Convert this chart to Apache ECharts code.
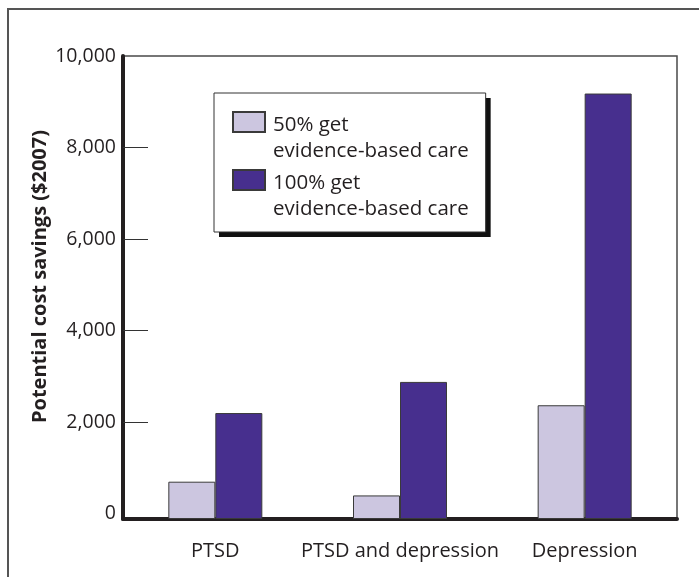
<!DOCTYPE html>
<html>
<head>
<meta charset="utf-8">
<script src="https://cdn.jsdelivr.net/npm/echarts@6/dist/echarts.min.js"></script>
<style>
  html, body { margin: 0; padding: 0; background: #fff; }
  #chart { width: 699px; height: 577px; }
</style>
</head>
<body>
<div id="chart"></div>
<script>
// Potential cost savings by diagnosis, two care scenarios
const categories = ['PTSD', 'PTSD and depression', 'Depression'];
const seriesNames = ['50% get\nevidence-based care', '100% get\nevidence-based care'];
const halfCare = [700, 400, 2370];
const fullCare = [2200, 2880, 9180];
const yTickValues = [0, 2000, 4000, 6000, 8000, 10000];
// Axis floor sits a little below zero so the baseline line clears the 0 label
const axisFloor = -115;
const axisMax = 10000;

const ink = '#231f20';
const font = 'Open Sans';

const chart = echarts.init(document.getElementById('chart'), null, { renderer: 'canvas' });

// Legend swatch: 32x20 box in the top of a 32x52 cell, so it lines up with the first text line
const swatch = 'path://M0,0L32,0L32,20L0,20Z M0,52';

// Shared legend layout; one copy paints the shadowed card, the other the items and outline
const legendBase = {
  orient: 'vertical',
  left: 214, top: 93,
  padding: [18, 17, 9, 18],
  itemWidth: 32, itemHeight: 52, itemGap: 4,
  icon: swatch,
  selectedMode: false,
  textStyle: { fontFamily: font, fontSize: 20.5, lineHeight: 26, color: ink, padding: [0, 0, 0, 3] },
  data: seriesNames
};

chart.setOption({
  animation: false,
  backgroundColor: '#fff',
  graphic: [{
    type: 'rect',
    shape: { x: 8, y: 9, width: 900, height: 800 },
    style: { fill: 'none', stroke: '#555', lineWidth: 2 },
    silent: true,
    z: -1
  }],
  grid: {
    left: 123, right: 22, top: 56, bottom: 58,
    show: true, borderColor: '#4a4a4a', borderWidth: 1.5, backgroundColor: 'transparent'
  },
  legend: [
    Object.assign({}, legendBase, {
      z: 3,
      backgroundColor: '#fff',
      borderWidth: 0,
      shadowColor: '#111', shadowBlur: 0, shadowOffsetX: 5, shadowOffsetY: 5,
      itemStyle: { color: 'transparent', borderColor: 'transparent' },
      textStyle: Object.assign({}, legendBase.textStyle, { color: 'transparent' })
    }),
    Object.assign({}, legendBase, {
      z: 4,
      backgroundColor: 'transparent',
      borderColor: '#333', borderWidth: 1
    })
  ],
  xAxis: {
    type: 'category',
    data: categories,
    axisLine: { show: true, onZero: false, lineStyle: { color: ink, width: 4 } },
    axisTick: { show: false },
    axisLabel: { fontFamily: font, fontSize: 20, color: ink, margin: 22, interval: 0 }
  },
  yAxis: {
    type: 'value',
    min: axisFloor, max: axisMax,
    startValue: axisFloor,
    splitNumber: 5,
    name: 'Potential cost savings ($2007)',
    nameLocation: 'middle',
    nameGap: 73,
    nameMoveOverlap: false,
    nameTextStyle: { fontFamily: font, fontSize: 20, fontWeight: 'bold', color: ink, padding: [0, 0, 0, 22] },
    axisLine: { show: true, lineStyle: { color: ink, width: 4 } },
    axisTick: {
      show: true, inside: true, length: 25,
      customValues: yTickValues.filter(v => v > 0 && v < axisMax),
      lineStyle: { color: '#333', width: 1 }
    },
    splitLine: { show: false },
    axisLabel: {
      fontFamily: font, fontSize: 19.5, color: ink, margin: 7,
      customValues: yTickValues,
      formatter: v => v.toLocaleString('en-US')
    }
  },
  series: [
    {
      name: seriesNames[0], type: 'bar', data: halfCare,
      barWidth: 47, barGap: '0%',
      itemStyle: { color: '#ccc6e0', borderColor: '#3a3a3a', borderWidth: 1 }
    },
    {
      name: seriesNames[1], type: 'bar', data: fullCare,
      barWidth: 47, barGap: '0%',
      itemStyle: { color: '#472f8e', borderColor: '#3a3a3a', borderWidth: 1 }
    }
  ]
});
</script>
</body>
</html>
